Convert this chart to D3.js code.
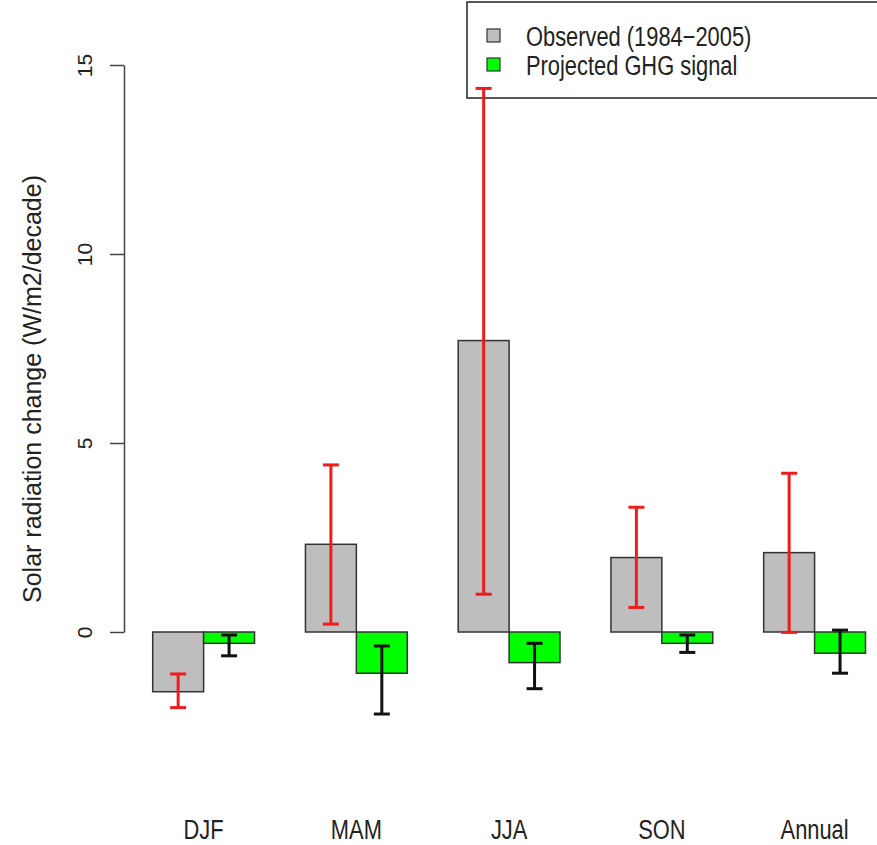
<!DOCTYPE html>
<html>
<head>
<meta charset="utf-8">
<script src="https://cdn.jsdelivr.net/npm/d3@7"></script>
<style>
  body { margin: 0; background: #fff; }
  text { font-family: "Liberation Sans", Arial, sans-serif; fill: #222; }
</style>
</head>
<body>
<div id="chart-container"></div>
<script>
// values
const seasons = ['DJF', 'MAM', 'JJA', 'SON', 'Annual'];
const observed = [-1.58, 2.32, 7.71, 1.97, 2.10];
const observedLow = [-2.0, 0.21, 1.0, 0.65, -0.01];
const observedHigh = [-1.11, 4.42, 14.38, 3.30, 4.20];
const projected = [-0.30, -1.09, -0.81, -0.30, -0.56];
const projectedLow = [-0.63, -2.17, -1.50, -0.54, -1.09];
const projectedHigh = [-0.08, -0.37, -0.30, -0.08, 0.05];
const yTicks = [0, 5, 10, 15];
const seriesNames = ['Observed (1984\u22122005)', 'Projected GHG signal'];

const width = 877, height = 845;
const svg = d3.select('#chart-container').append('svg')
  .attr('width', width).attr('height', height);

const y = d3.scaleLinear().domain([0, 15]).range([632, 65]);
const x = d3.scaleBand().domain(seasons).range([152.7, 865.5])
  .paddingInner(1 / 3).paddingOuter(0);
const inner = d3.scaleBand().domain(['obs', 'proj']).range([0, x.bandwidth()]);

const rows = seasons.map((s, i) => [
  {season: s, key: 'obs', v: observed[i], lo: observedLow[i], hi: observedHigh[i]},
  {season: s, key: 'proj', v: projected[i], lo: projectedLow[i], hi: projectedHigh[i]}
]).flat();

const fill = {obs: '#bebebe', proj: '#00ff00'};
const errColor = {obs: '#ee1c1c', proj: '#111'};

// legend first, the error bars are drawn over it
const legend = svg.append('g');
legend.append('rect')
  .attr('x', 467).attr('y', 2).attr('width', 430).attr('height', 96)
  .attr('fill', '#fff').attr('stroke', '#222').attr('stroke-width', 1.5);
const items = legend.selectAll('g.item').data(seriesNames).enter().append('g')
  .attr('class', 'item')
  .attr('transform', (d, i) => `translate(0,${36 + i * 29})`);
items.append('rect')
  .attr('x', 487).attr('y', -7).attr('width', 13).attr('height', 13)
  .attr('fill', (d, i) => i === 0 ? fill.obs : fill.proj)
  .attr('stroke', '#333').attr('stroke-width', 1.2);
items.append('text')
  .attr('transform', 'translate(526,10) scale(0.81,1)')
  .style('font-size', '27px')
  .text(d => d);

// bars
svg.append('g').selectAll('rect').data(rows).enter().append('rect')
  .attr('x', d => x(d.season) + inner(d.key))
  .attr('y', d => y(Math.max(0, d.v)))
  .attr('width', inner.bandwidth())
  .attr('height', d => Math.abs(y(d.v) - y(0)))
  .attr('fill', d => fill[d.key])
  .attr('stroke', '#333').attr('stroke-width', 1.5);

// error bars
const err = svg.append('g').selectAll('g').data(rows).enter().append('g')
  .attr('stroke', d => errColor[d.key]).attr('stroke-width', 3);
const cx = d => x(d.season) + inner(d.key) + inner.bandwidth() / 2;
err.append('line')
  .attr('x1', cx).attr('x2', cx)
  .attr('y1', d => y(d.lo)).attr('y2', d => y(d.hi));
err.append('line')
  .attr('x1', d => cx(d) - 8).attr('x2', d => cx(d) + 8)
  .attr('y1', d => y(d.lo)).attr('y2', d => y(d.lo));
err.append('line')
  .attr('x1', d => cx(d) - 8).attr('x2', d => cx(d) + 8)
  .attr('y1', d => y(d.hi)).attr('y2', d => y(d.hi));

// y axis
const yAxis = svg.append('g').attr('transform', 'translate(124,0)')
  .call(d3.axisLeft(y).tickValues(yTicks).tickSize(14).tickSizeOuter(0));
yAxis.selectAll('path, line').attr('stroke', '#444').attr('stroke-width', 1.5);
yAxis.selectAll('text')
  .attr('transform', 'rotate(-90)')
  .attr('x', 0).attr('y', -32).attr('dy', 0)
  .style('text-anchor', 'middle')
  .style('font-size', '21px')
  .style('font-family', '"Liberation Sans", Arial, sans-serif')
  .attr('fill', '#222');

svg.append('text')
  .attr('transform', 'translate(41,389) rotate(-90)')
  .attr('text-anchor', 'middle')
  .style('font-size', '25px')
  .text('Solar radiation change (W/m2/decade)');

// category labels (narrow, tall lettering)
svg.append('g').selectAll('text').data(seasons).enter().append('text')
  .attr('transform', d => `translate(${x(d) + x.bandwidth() / 2},839) scale(0.81,1)`)
  .attr('text-anchor', 'middle')
  .style('font-size', '27px')
  .text(d => d);
</script>
</body>
</html>
